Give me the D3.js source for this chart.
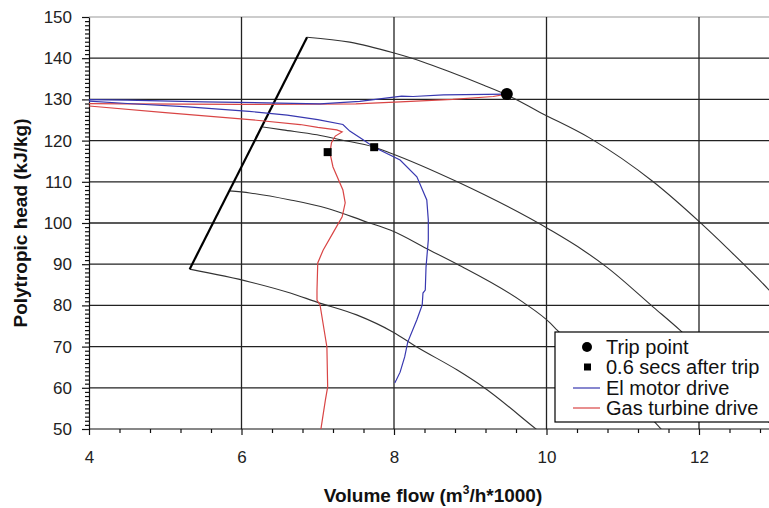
<!DOCTYPE html>
<html>
<head>
<meta charset="utf-8">
<script src="https://cdn.jsdelivr.net/npm/d3@7"></script>
<style>
body{margin:0;background:#fff}
svg{display:block}
text{font-family:Arial,"Liberation Sans",sans-serif}
</style>
</head>
<body>
<svg width="769" height="508"></svg>
<script>
// ticks
var xTicks = [4, 6, 8, 10, 12];
var yTicks = [50, 60, 70, 80, 90, 100, 110, 120, 130, 140, 150];

// surge line and speed curves [flow, head]
var surgeLine = [[5.32, 88.8], [6.86, 145.1]];
var speedCurve1 = [[6.86,145.1],[7.42,143.9],[7.99,141.3],[8.38,139.1],[8.73,136.7],[9.17,133.5],[9.48,131.1],[9.91,126.9],[10.57,120.6],[11.40,110.0],[12.01,100.2],[12.37,93.9],[12.93,83.5],[13.1,80]];
var speedCurve2 = [[6.28,123.3],[6.54,122.6],[6.99,121.4],[7.3,120.2],[7.74,118.4],[7.95,117.0],[8.83,110.0],[10.05,98.3],[10.48,93.4],[10.79,89.3],[11.40,79.6],[11.75,74.0],[12.2,66],[12.7,56],[13.1,48]];
var speedCurve3 = [[5.84,107.8],[6.11,107.3],[6.64,105.6],[7.12,103.6],[7.65,100.2],[7.95,98.3],[8.47,93.4],[8.83,90.0],[9.69,80.8],[10.05,75.7],[10.14,74.0],[10.6,66],[11.2,56],[11.6,48]];
var speedCurve4 = [[5.32,88.8],[6.11,85.7],[6.64,83.0],[6.99,80.8],[7.51,77.7],[7.99,73.5],[8.30,69.9],[8.83,64.3],[9.17,60.2],[9.91,49.3],[10.0,48]];

// trip trajectories
var elMotorDrive = [[9.48,131.3],[8.65,131.1],[8.25,130.7],[8.1,130.8],[7.55,129.5],[7.03,128.9],[6.5,129.1],[5.5,129.4],[4.5,129.8],[3.9,130.0],
  [3.9,129.7],[4.5,129.0],[5.3,128.2],[6.1,127.1],[6.6,126.2],[7.0,125.1],[7.33,123.9],[7.42,122.3],[7.58,120.4],[7.74,118.4],[8.08,115.3],[8.30,111.2],[8.43,105.6],[8.45,100.7],[8.45,95.9],[8.42,89.3],[8.41,83.7],[8.38,83.0],[8.37,80.1],[8.30,76.5],[8.18,71.1],[8.14,67.5],[8.08,63.8],[8.03,61.9],[8.01,61.2]];
var gasTurbineDrive = [[9.48,131.3],[9.3,130.7],[8.77,130.0],[8.08,129.4],[7.5,128.9],[6.0,128.8],[4.5,128.9],[3.9,129.0],
  [3.9,128.5],[4.0,128.4],[5.0,126.8],[6.11,125.1],[6.77,123.9],[7.0,123.2],[7.25,122.6],[7.32,122.1],[7.23,121.1],[7.18,119.5],[7.16,117.0],[7.20,113.6],[7.33,108.0],[7.36,104.9],[7.32,101.5],[7.20,97.6],[7.07,93.4],[7.00,90.3],[6.99,83.7],[6.99,81.3],[7.03,80.1],[7.12,69.9],[7.13,60.2],[7.10,57.0],[7.06,52.2],[7.04,49.8],[7.03,48]];

var tripPoint = [[9.48, 131.3]];
var afterTrip = [[7.74, 118.4], [7.13, 117.2]];

var legendNames = ["Trip point", "0.6 secs after trip", "El motor drive", "Gas turbine drive"];

var svg = d3.select("svg");
var plotL = 89, plotT = 17, plotB = 429, plotR = 769;

var x = d3.scaleLinear().domain([4, 13]).range([plotL, plotL + 9 * 76.25]);
var y = d3.scaleLinear().domain([50, 150]).range([plotB, plotT]);

svg.append("defs").append("clipPath").attr("id", "plot")
  .append("rect").attr("x", plotL).attr("y", plotT).attr("width", plotR - plotL).attr("height", plotB - plotT);

// grid
svg.append("line").attr("x1", plotL).attr("x2", plotR).attr("y1", plotT).attr("y2", plotT)
  .attr("stroke", "#999").attr("stroke-width", 1.2);
svg.append("g").selectAll("line")
  .data(yTicks.filter(function(d) { return d > 50 && d < 150; }))
  .enter().append("line")
  .attr("x1", plotL).attr("x2", plotR)
  .attr("y1", function(d) { return y(d); }).attr("y2", function(d) { return y(d); })
  .attr("stroke", "#222").attr("stroke-width", 1.3);
svg.append("g").selectAll("line")
  .data(xTicks.filter(function(d) { return d > 4; }))
  .enter().append("line")
  .attr("y1", plotT).attr("y2", plotB)
  .attr("x1", function(d) { return x(d); }).attr("x2", function(d) { return x(d); })
  .attr("stroke", "#222").attr("stroke-width", 1.3);

// minor ticks
var xMinor = d3.range(0, 23).filter(function(i) { return i % 5 != 0; }).map(function(i) { return 4 + i * 0.4; });
var yMinor = d3.range(50, 151).filter(function(d) { return d % 10 != 0; });

svg.append("g").attr("transform", "translate(0," + plotB + ")")
  .call(d3.axisBottom(x).tickValues(xMinor).tickSize(4).tickFormat(""))
  .call(function(g) { g.select(".domain").remove(); });
svg.append("g").attr("transform", "translate(" + plotL + ",0)")
  .call(d3.axisLeft(y).tickValues(yMinor).tickSize(4).tickFormat(""))
  .call(function(g) { g.select(".domain").remove(); });

// axes
var xAxis = svg.append("g").attr("transform", "translate(0," + plotB + ")")
  .call(d3.axisBottom(x).tickValues(xTicks).tickSize(6).tickPadding(16).tickSizeOuter(0));
xAxis.select(".domain").attr("d", "M" + plotL + ",0H" + plotR);
var yAxis = svg.append("g").attr("transform", "translate(" + plotL + ",0)")
  .call(d3.axisLeft(y).tickValues(yTicks).tickSize(7).tickPadding(10).tickSizeOuter(0));

svg.selectAll(".tick line, .domain").attr("stroke", "#111").attr("stroke-width", 1.2);
svg.selectAll(".tick text").attr("font-size", 17).attr("fill", "#222")
  .style("font-family", "Arial, 'Liberation Sans', sans-serif");

// curves
var plot = svg.append("g").attr("clip-path", "url(#plot)");
var line = d3.line().x(function(d) { return x(d[0]); }).y(function(d) { return y(d[1]); });
var smooth = d3.line().curve(d3.curveMonotoneX).x(function(d) { return x(d[0]); }).y(function(d) { return y(d[1]); });

[speedCurve1, speedCurve2, speedCurve3, speedCurve4].forEach(function(c) {
  plot.append("path").attr("d", smooth(c)).attr("fill", "none")
    .attr("stroke", "#333").attr("stroke-width", 1.1);
});
plot.append("path").attr("d", line(surgeLine)).attr("fill", "none")
  .attr("stroke", "#000").attr("stroke-width", 2.2);

plot.append("path").attr("d", line(gasTurbineDrive)).attr("fill", "none")
  .attr("stroke", "#d94545").attr("stroke-width", 1.2);
plot.append("path").attr("d", line(elMotorDrive)).attr("fill", "none")
  .attr("stroke", "#3838b0").attr("stroke-width", 1.2);

plot.selectAll(".trip").data(tripPoint).enter().append("circle")
  .attr("cx", function(d) { return x(d[0]); }).attr("cy", function(d) { return y(d[1]); })
  .attr("r", 6).attr("fill", "#000");
plot.selectAll(".after").data(afterTrip).enter().append("rect")
  .attr("x", function(d) { return x(d[0]) - 4; }).attr("y", function(d) { return y(d[1]) - 4; })
  .attr("width", 8).attr("height", 8).attr("fill", "#000");

// axis titles
svg.append("text").attr("x", 433).attr("y", 502).attr("text-anchor", "middle")
  .attr("font-size", 19).attr("font-weight", "bold").attr("fill", "#111")
  .html('Volume flow (m<tspan dy="-8" font-size="12">3</tspan><tspan dy="8">/h*1000)</tspan>');
svg.append("text").attr("transform", "translate(27,223) rotate(-90)").attr("text-anchor", "middle")
  .attr("font-size", 19).attr("font-weight", "bold").attr("fill", "#111")
  .text("Polytropic head (kJ/kg)");

// legend
var lg = svg.append("g");
lg.append("rect").attr("x", 555).attr("y", 332).attr("width", 240).attr("height", 90)
  .attr("fill", "#fff").attr("stroke", "#000").attr("stroke-width", 1.2);
var ly = [347, 367, 388, 408];
lg.append("circle").attr("cx", 587).attr("cy", ly[0]).attr("r", 5).attr("fill", "#000");
lg.append("rect").attr("x", 584).attr("y", ly[1] - 3.5).attr("width", 7).attr("height", 7).attr("fill", "#000");
lg.append("line").attr("x1", 573).attr("x2", 600).attr("y1", ly[2]).attr("y2", ly[2]).attr("stroke", "#3838b0").attr("stroke-width", 1.2);
lg.append("line").attr("x1", 573).attr("x2", 600).attr("y1", ly[3]).attr("y2", ly[3]).attr("stroke", "#d94545").attr("stroke-width", 1.2);
lg.selectAll("text.lab").data(legendNames).enter().append("text")
  .attr("x", 606).attr("y", function(d, i) { return ly[i] + 6.5; })
  .attr("font-size", 20).attr("fill", "#111").text(function(d) { return d; });
</script>
</body>
</html>
